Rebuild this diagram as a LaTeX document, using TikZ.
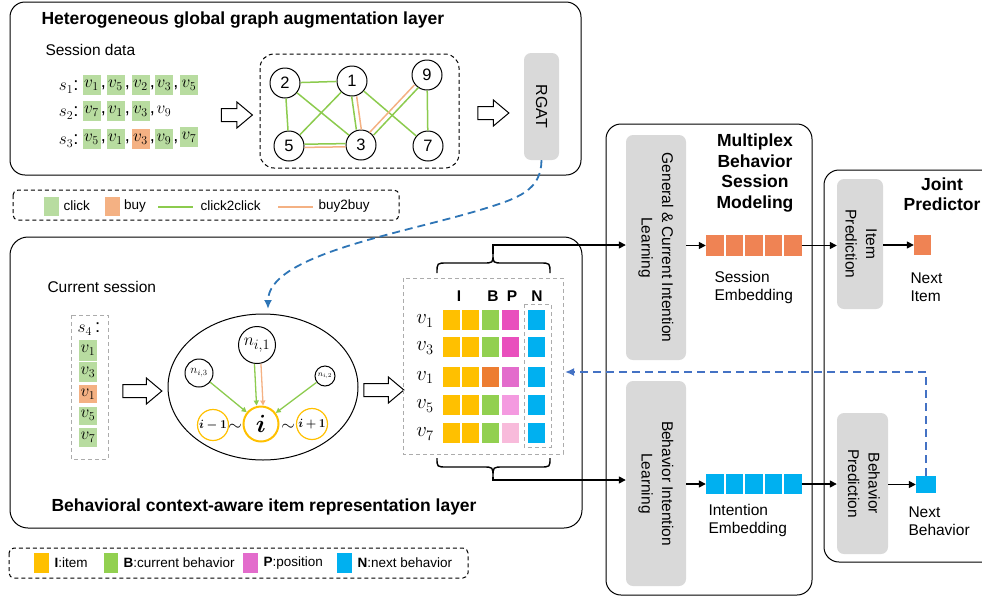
\documentclass[tikz,border=0pt]{standalone}
\usepackage{fontspec}
\setmainfont{Liberation Sans}
\usepackage{amsmath,bm,graphicx}
\usetikzlibrary{shapes.geometric,shapes.arrows,arrows.meta}
\definecolor{cg}{HTML}{B8DCA0}
\definecolor{co}{HTML}{F4B183}
\definecolor{lgreen}{HTML}{8CCB4E}
\definecolor{lorange}{HTML}{F4B183}
\definecolor{boxgray}{HTML}{D9D9D9}
\definecolor{myellow}{HTML}{FFC000}
\definecolor{mgreen}{HTML}{92D050}
\definecolor{morange}{HTML}{ED7D31}
\definecolor{pA}{HTML}{E94FBD}
\definecolor{pB}{HTML}{E36CCC}
\definecolor{pC}{HTML}{F49AE0}
\definecolor{pD}{HTML}{F8BBDB}
\definecolor{mblue}{HTML}{00B0F0}
\definecolor{sorange}{HTML}{EF8354}
\definecolor{curveblue}{HTML}{2E75B6}
\definecolor{lineblue}{HTML}{4472C4}
\begin{document}
\begin{tikzpicture}[x=1pt,y=-1pt,
  every node/.style={font=\fontsize{15.5}{18}\selectfont},
  bigbox/.style={draw, line width=1pt, rounded corners=15},
  dbox/.style={draw, dash pattern=on 4pt off 3pt, line width=1pt, rounded corners=6},
  gdbox/.style={draw=gray!65, dash pattern=on 4pt off 3pt, line width=1pt},
  graybox/.style={fill=boxgray, rounded corners=7, inner sep=0pt},
  vb/.style={minimum width=18, minimum height=20, inner sep=0pt, font=\fontsize{18}{18}\selectfont},
  gnode/.style={circle, draw, line width=1pt, minimum size=30, inner sep=0pt, font=\fontsize{16.5}{16.5}\selectfont},
  gline/.style={draw=lgreen, line width=1.5pt},
  oline/.style={draw=lorange, line width=1.5pt},
  garr/.style={draw=lgreen, line width=1.3pt, -{Triangle[length=5pt,width=5pt]}},
  oarr/.style={draw=lorange, line width=1.3pt, -{Triangle[length=5pt,width=5pt]}},
  harrow/.style={single arrow, draw, line width=1pt, single arrow head extend=6.5pt, single arrow tip angle=80, inner sep=6pt, minimum height=31},
  cell/.style={minimum width=17, minimum height=20, inner sep=0pt},
  sq/.style={minimum width=17.5, minimum height=21, inner sep=0pt},
  lsq/.style={minimum width=15, minimum height=19, inner sep=0pt},
  legtxt/.style={anchor=west, font=\fontsize{13.5}{16}\selectfont},
  arr/.style={-{Triangle[length=7pt,width=7pt]}, line width=1.4pt},
  bluedash/.style={draw=curveblue, line width=1.8pt, dash pattern=on 8pt off 5pt},
  rtext/.style={font=\fontsize{15.5}{20.5}\selectfont},
  btitle/.style={font=\bfseries\fontsize{17.5}{20.5}\selectfont},
  ycirc/.style={circle,draw=myellow,line width=1.2pt,minimum size=31,inner sep=0pt,font=\fontsize{12.5}{12.5}\selectfont},
  slab/.style={anchor=east, font=\fontsize{18.5}{18.5}\selectfont}
]
\useasboundingbox (0,0) rectangle (982,603);

% ===== Box 1 =====
\draw[bigbox] (10,2) rectangle (581,175);
\node[btitle, anchor=west] (t1) at (38,20) {Heterogeneous global graph augmentation layer};
\node[anchor=west] (sd) at (42,50) {Session data};

\node[slab] (s1) at (82,87) {$s_1$:};
\node[vb,fill=cg] (s1a) at (91.5,85) {$v_1$\rlap{\hspace{2pt},}};
\node[vb,fill=cg] (s1b) at (115.5,85) {$v_5$\rlap{\hspace{2pt},}};
\node[vb,fill=cg] (s1c) at (140.5,85) {$v_2$\rlap{\hspace{2pt},}};
\node[vb,fill=cg] (s1d) at (164,85) {$v_3$\rlap{\hspace{2pt},}};
\node[vb,fill=cg] (s1e) at (189,85) {$v_5$};

\node[slab] (s2) at (82,113) {$s_2$:};
\node[vb,fill=cg] (s2a) at (91.5,111) {$v_7$\rlap{\hspace{2pt},}};
\node[vb,fill=cg] (s2b) at (115.5,111) {$v_1$\rlap{\hspace{2pt},}};
\node[vb,fill=cg] (s2c) at (140.5,111) {$v_3$\rlap{\hspace{2pt},}};
\node[vb] (s2d) at (164,111) {$v_9$};

\node[slab] (s3) at (82,141) {$s_3$:};
\node[vb,fill=cg] (s3a) at (91.5,139) {$v_5$\rlap{\hspace{2pt},}};
\node[vb,fill=cg] (s3b) at (115.5,139) {$v_1$\rlap{\hspace{2pt},}};
\node[vb,fill=co] (s3c) at (140.5,139) {$v_3$\rlap{\hspace{2pt},}};
\node[vb,fill=cg] (s3d) at (164,139) {$v_9$\rlap{\hspace{2pt},}};
\node[vb,fill=cg] (s3e) at (189,137) {$v_7$};

\node[harrow] (ha1) at (233,115) {};

\draw[dbox, rounded corners=14] (260,54) rectangle (459,168);
\node[gnode] (g2) at (285,83) {2};
\node[gnode] (g1) at (352,81) {1};
\node[gnode] (g9) at (427,75) {9};
\node[gnode] (g5) at (289,146) {5};
\node[gnode] (g3) at (361,145) {3};
\node[gnode] (g7) at (428,146) {7};
\draw[gline] (g2) -- (g1);
\draw[gline] (g2) -- (g5);
\draw[gline] (g2) -- (g3);
\draw[gline] (g1) -- (g5);
\draw[gline] (g1) -- (g7);
\draw[gline] (g9) -- (g7);
\draw[gline, transform canvas={xshift=-2.5pt}] (g1) -- (g3);
\draw[oline, transform canvas={xshift=2.5pt}] (g1) -- (g3);
\draw[gline, transform canvas={yshift=1.6pt}] (g5) -- (g3);
\draw[oline, transform canvas={yshift=-1.6pt}] (g5) -- (g3);
\draw[oline, transform canvas={xshift=-2pt,yshift=1.3pt}] (g9) -- (g3);
\draw[gline, transform canvas={xshift=2pt,yshift=-1.3pt}] (g9) -- (g3);

\node[harrow] (ha2) at (489.5,113) {};
\node[graybox, minimum width=35, minimum height=107, font=\fontsize{16}{16}\selectfont] (rgat) at (541.5,106.5) {\rotatebox{-90}{RGAT}};

% ===== Legend 1 =====
\draw[dbox, rounded corners=5] (13,190) rectangle (399,220);
\node[lsq, fill=cg] (lc1) at (51.5,206.5) {};
\node[legtxt] (lt1) at (60,206) {click};
\node[lsq, fill=co] (lc2) at (112,206.5) {};
\node[legtxt] (lt2) at (120.5,206) {buy};
\coordinate (lg3a) at (158,207);
\coordinate (lg3b) at (193,207);
\draw[gline] (lg3a) -- (lg3b);
\node[legtxt] (lt3) at (197,206) {click2click};
\coordinate (lg4a) at (278,207);
\coordinate (lg4b) at (313,207);
\draw[oline] (lg4a) -- (lg4b);
\node[legtxt] (lt4) at (315,206) {buy2buy};

% ===== Box 2 =====
\draw[bigbox, rounded corners=18] (10,237) rectangle (582,528);
\node[anchor=west] (cs) at (44,287) {Current session};
\node[btitle, anchor=west] (t2) at (48,507) {Behavioral context-aware item representation layer};

\draw[gdbox] (71,315) rectangle (108,459);
\node[font=\fontsize{18.5}{18.5}\selectfont] (s4) at (89,329) {$s_4$\,:};
\node[vb,fill=cg,minimum height=21] (s4a) at (88,350.5) {$v_1$};
\node[vb,fill=cg] (s4b) at (88,372) {$v_3$};
\node[vb,fill=co,minimum height=18] (s4c) at (88,394) {$v_1$};
\node[vb,fill=cg,minimum height=18] (s4d) at (88,415.5) {$v_5$};
\node[vb,fill=cg,minimum height=19] (s4e) at (88,437.5) {$v_7$};

\node[harrow, minimum height=39] (ha3) at (138.5,391) {};

\node[ellipse, draw, line width=1pt, minimum width=190, minimum height=146] (ell) at (263,387) {};
\node[circle,draw,line width=1pt,minimum size=37,inner sep=0pt,font=\fontsize{19}{19}\selectfont] (ni1) at (257,345) {$n_{i,1}$};
\node[circle,draw,line width=1pt,minimum size=28,inner sep=0pt,font=\fontsize{12}{12}\selectfont] (ni3) at (199,373) {$n_{i,3}$};
\node[circle,draw,line width=1pt,minimum size=20,inner sep=0pt,font=\fontsize{8}{8}\selectfont] (ni2) at (325,376) {$n_{i,2}$};
\node[circle,draw=myellow,line width=2pt,minimum size=35,inner sep=0pt,font=\fontsize{23}{23}\selectfont] (ci) at (261,424) {$\bm{i}$};
\node[ycirc] (cim) at (213,425) {$\bm{i-1}$};
\node[ycirc] (cip) at (312,424) {$\bm{i+1}$};
\node[font=\fontsize{18}{18}\selectfont, inner sep=0pt] (tl1) at (235,427) {$\sim$};
\node[font=\fontsize{18}{18}\selectfont, inner sep=0pt] (tl2) at (288,427) {$\sim$};
\draw[garr] (ni3) -- (ci);
\draw[garr] (ni2) -- (ci);
\draw[garr, transform canvas={xshift=-3.5pt}] (ni1) -- (ci);
\draw[oarr, transform canvas={xshift=3pt}] (ni1) -- (ci);

\node[harrow, minimum height=40] (ha4) at (380,390) {};

% matrix
\draw[gdbox] (403,278) rectangle (563,454);
\draw[gdbox] (524,304) rectangle (551,447);
\node[font=\bfseries\fontsize{15.5}{18}\selectfont] (hI) at (459,296) {I};
\node[font=\bfseries\fontsize{15.5}{18}\selectfont] (hB) at (493,296) {B};
\node[font=\bfseries\fontsize{15.5}{18}\selectfont] (hP) at (512,296) {P};
\node[font=\bfseries\fontsize{15.5}{18}\selectfont] (hN) at (537,296) {N};
\foreach \r/\y/\k/\bc/\pc in {1/320/1/mgreen/pA, 2/347/3/mgreen/pA, 3/376.5/1/morange/pB, 4/405/5/mgreen/pC, 5/433/7/mgreen/pD}{
  \node[font=\fontsize{19.5}{19.5}\selectfont] (rl\r) at (425,\y+1) {$v_{\k}$};
  \node[cell, fill=myellow] (ca\r) at (451.5,\y) {};
  \node[cell, fill=myellow] (cb\r) at (470.5,\y) {};
  \node[cell, fill=\bc] (cc\r) at (490,\y) {};
  \node[cell, fill=\pc] (cd\r) at (510.5,\y) {};
  \node[cell, fill=mblue] (ce\r) at (536.5,\y) {};
}
\draw[line width=1.4pt] (437,273) .. controls (437,263) .. (447,263) -- (483,263) .. controls (493,263) .. (493,254) .. controls (493,263) .. (503,263) -- (540,263) .. controls (550,263) .. (550,273);
\draw[line width=1.4pt] (437,458) .. controls (437,467) .. (447,467) -- (483,467) .. controls (493,467) .. (493,477) .. controls (493,467) .. (503,467) -- (540,467) .. controls (550,467) .. (550,458);
\coordinate (tb) at (493,254);
\coordinate (bb) at (493,477);

% ===== Box 3 =====
\draw[bigbox] (606,124) rectangle (812,595);
\node[btitle, align=center] (t3) at (755,173) {Multiplex\\Behavior\\Session\\Modeling};
\node[graybox, minimum width=60, minimum height=225, rtext] (gcil) at (656,247.5) {\rotatebox{-90}{\begin{tabular}{@{}c@{}}General \& Current Intention\\Learning\end{tabular}}};
\node[graybox, minimum width=60, minimum height=205, rtext] (bil) at (656,483.5) {\rotatebox{-90}{\begin{tabular}{@{}c@{}}Behavior Intention\\Learning\end{tabular}}};
\foreach \i/\x in {1/714.75,2/734.25,3/753.75,4/773.25,5/792.75}{
  \node[sq, fill=sorange] (se\i) at (\x,245.5) {};
  \node[sq, fill=mblue, minimum height=20] (ie\i) at (\x,484) {};
}
\node[anchor=north west, align=left] (setxt) at (711,268) {Session\\Embedding};
\node[anchor=north west, align=left] (ietxt) at (705,501) {Intention\\Embedding};

% ===== Box 4 =====
\draw[line width=1pt, rounded corners=15] (990,562) -- (824,562) -- (824,170) -- (990,170);
\node[btitle, align=center] (t4) at (942,194) {Joint\\Predictor};
\node[graybox, minimum width=46, minimum height=130, rtext] (ip) at (860,244) {\rotatebox{-90}{\begin{tabular}{@{}c@{}}Item\\Prediction\end{tabular}}};
\node[graybox, minimum width=51, minimum height=141, rtext] (bp) at (862.5,483.5) {\rotatebox{-90}{\begin{tabular}{@{}c@{}}Behavior\\Prediction\end{tabular}}};
\node[sq, fill=sorange, minimum width=17, minimum height=20] (ni) at (922.5,245) {};
\node[sq, fill=mblue, minimum width=20, minimum height=17] (nb) at (926,484.5) {};
\node[anchor=north west, align=left] (nitxt) at (907,269) {Next\\Item};
\node[anchor=north west, align=left] (nbtxt) at (905,503) {Next\\Behavior};

% ===== connectors =====
\draw[arr] (tb) |- ([yshift=2.5pt]gcil.west);
\draw[arr] (bb) |- ([yshift=3.5pt]bil.west);
\draw[arr] (gcil.east |- se1.west) -- (se1.west);
\draw[arr] (se5.east) -- (ip.west |- se5.east);
\draw[arr] (ip.east |- ni.west) -- (ni.west);
\draw[arr] (bil.east |- ie1.west) -- (ie1.west);
\draw[arr] (ie5.east) -- (bp.west |- ie5.east);
\draw[arr] (bp.east |- nb.west) -- (nb.west);

\coordinate (curveEnd) at (268,309);
\draw[bluedash, -{Latex[length=9pt,width=8pt]}] (rgat.south) .. controls (541,190) and (520,198) .. (480,210) .. controls (400,234) and (268,255) .. (curveEnd);
\coordinate (mtxR) at (565,372);
\draw[bluedash, draw=lineblue, -{Latex[length=9pt,width=8pt]}] (nb.north) |- (mtxR);

% ===== Legend 2 =====
\draw[dbox, rounded corners=5] (9,548) rectangle (468,578);
\node[lsq, fill=myellow, minimum height=20] (lq1) at (41.5,563) {};
\node[legtxt] (lq1t) at (51,563) {\textbf{I}:item};
\node[lsq, fill=mgreen, minimum width=14, minimum height=20] (lq2) at (111,563) {};
\node[legtxt] (lq2t) at (120,563) {\textbf{B}:current behavior};
\node[lsq, fill=pB, minimum height=20] (lq3) at (250.5,563) {};
\node[legtxt] (lq3t) at (260,563) {\textbf{P}:position};
\node[lsq, fill=mblue, minimum height=20] (lq4) at (344.5,563) {};
\node[legtxt] (lq4t) at (354,563) {\textbf{N}:next behavior};
\end{tikzpicture}
\end{document}
